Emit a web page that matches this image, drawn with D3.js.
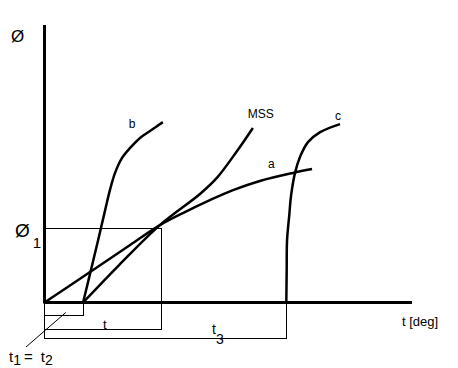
<!DOCTYPE html>
<html>
<head>
<meta charset="utf-8">
<script src="https://cdn.jsdelivr.net/npm/d3@7"></script>
<style>
  body { margin: 0; background: #fff; }
  svg text { font-family: "Liberation Sans", Arial, sans-serif; fill: #000; }
</style>
</head>
<body>
<div class="viz"></div>
<script>
// curve data (t in deg, phi in %)
var aT = [0, 12.4, 23.3, 31.4, 38.2, 45.0, 51.3, 58.6, 67.6, 72.8];
var aPhi = [0, 11.0, 20.7, 27.9, 32.6, 36.9, 40.5, 43.8, 46.7, 48.1];
var bT = [10.5, 14.6, 16.5, 17.8, 19.2, 21.1, 23.3, 26.0, 28.7, 32.2];
var bPhi = [0, 22.5, 33.3, 40.5, 46.7, 52.1, 55.7, 59.3, 61.8, 65.0];
var mssT = [10.5, 20.3, 31.4, 42.3, 46.9, 52.4, 56.7];
var mssPhi = [0, 13.5, 27.9, 39.1, 44.9, 54.6, 62.9];
var cT = [65.8, 65.9, 66.0, 66.6, 67.1, 68.2, 69.6, 71.7, 75.0, 80.4];
var cPhi = [0, 11.6, 22.4, 31.4, 38.6, 46.9, 52.7, 57.8, 61.4, 64.3];
var seriesNames = ["a", "b", "MSS", "c"];

// marked values
var t1 = 10.5, tMid = 31.8, t3 = 65.8, phi1 = 26.7;

var width = 458, height = 368;
var x = d3.scaleLinear().domain([0, 100]).range([44.5, 412]);
var y = d3.scaleLinear().domain([0, 100]).range([302.5, 25]);

var svg = d3.select(".viz").append("svg").attr("width", width).attr("height", height);
svg.append("rect").attr("width", width).attr("height", height).attr("fill", "#fff");

function zip(ts, ps) {
  return ts.map(function (d, i) { return { t: d, p: ps[i] }; });
}
var curves = [zip(aT, aPhi), zip(bT, bPhi), zip(mssT, mssPhi), zip(cT, cPhi)];

// thin guide lines
var thin = svg.append("g").attr("stroke", "#000").attr("stroke-width", 1).attr("shape-rendering", "crispEdges");
var y0 = y(0);
var lev1 = y0 + 13, lev2 = y0 + 27, lev3 = y0 + 36;
thin.append("line").attr("x1", x(0)).attr("x2", x(tMid)).attr("y1", y(phi1)).attr("y2", y(phi1));
thin.append("line").attr("x1", x(tMid)).attr("x2", x(tMid)).attr("y1", y(phi1)).attr("y2", lev2);
thin.append("line").attr("x1", x(0)).attr("x2", x(0)).attr("y1", y0).attr("y2", lev3);
thin.append("line").attr("x1", x(0)).attr("x2", x(t1)).attr("y1", lev1).attr("y2", lev1);
thin.append("line").attr("x1", x(t1)).attr("x2", x(t1)).attr("y1", y0).attr("y2", lev1);
thin.append("line").attr("x1", x(0)).attr("x2", x(tMid)).attr("y1", lev2).attr("y2", lev2);
thin.append("line").attr("x1", x(0)).attr("x2", x(t3)).attr("y1", lev3).attr("y2", lev3);
thin.append("line").attr("x1", x(t3)).attr("x2", x(t3)).attr("y1", y0).attr("y2", lev3);
svg.append("line").attr("stroke", "#000").attr("stroke-width", 1)
  .attr("x1", 26).attr("y1", 347).attr("x2", x(t1 / 2) + 2).attr("y2", lev1 - 3);

// axes
svg.append("line").attr("stroke", "#000").attr("stroke-width", 3)
  .attr("x1", x(0)).attr("x2", x(0)).attr("y1", y(0) + 1).attr("y2", y(100));
svg.append("line").attr("stroke", "#000").attr("stroke-width", 3)
  .attr("x1", x(0)).attr("x2", x(100)).attr("y1", y(0)).attr("y2", y(0));

// curves
var line = d3.line().x(function (d) { return x(d.t); }).y(function (d) { return y(d.p); })
  .curve(d3.curveCatmullRom.alpha(0.5));
svg.selectAll("path.curve").data(curves).enter().append("path")
  .attr("class", "curve")
  .attr("d", line)
  .attr("fill", "none")
  .attr("stroke", "#000")
  .attr("stroke-width", 2.5)
  .attr("stroke-linejoin", "round");

// curve labels, placed relative to each curve's end point
var labelOffset = { a: [-44, -1], b: [-34, 6], MSS: [-5, -10], c: [-5, -4] };
seriesNames.forEach(function (name, i) {
  var last = curves[i][curves[i].length - 1];
  svg.append("text")
    .attr("x", x(last.t) + labelOffset[name][0])
    .attr("y", y(last.p) + labelOffset[name][1])
    .attr("font-size", 12)
    .text(name);
});

// axis titles
svg.append("text").attr("x", 11).attr("y", 42).attr("font-size", 17).text("Ø");
svg.append("text").attr("x", 402).attr("y", 326).attr("font-size", 13).text("t [deg]");

// marker labels
var phiLab = svg.append("text").attr("x", 15).attr("y", y(phi1) + 9).attr("font-size", 19);
phiLab.append("tspan").text("Ø");
phiLab.append("tspan").attr("font-size", 15).attr("dy", 11).attr("dx", 3).text("1");

svg.append("text").attr("x", x(tMid / 2) + 2).attr("y", lev2 - 1).attr("font-size", 13)
  .attr("text-anchor", "middle").text("t");

var t3Lab = svg.append("text").attr("x", 212).attr("y", lev3 - 5).attr("font-size", 14);
t3Lab.append("tspan").text("t");
t3Lab.append("tspan").attr("dy", 10).text("3");

var eqLab = svg.append("text").attr("x", 9).attr("y", 362).attr("font-size", 15);
eqLab.append("tspan").text("t");
eqLab.append("tspan").attr("dy", 3).attr("font-size", 14).text("1");
eqLab.append("tspan").attr("dy", -3).attr("dx", 3).text("=");
eqLab.append("tspan").attr("dx", 8).text("t");
eqLab.append("tspan").attr("dy", 3).attr("font-size", 14).text("2");
</script>
</body>
</html>
